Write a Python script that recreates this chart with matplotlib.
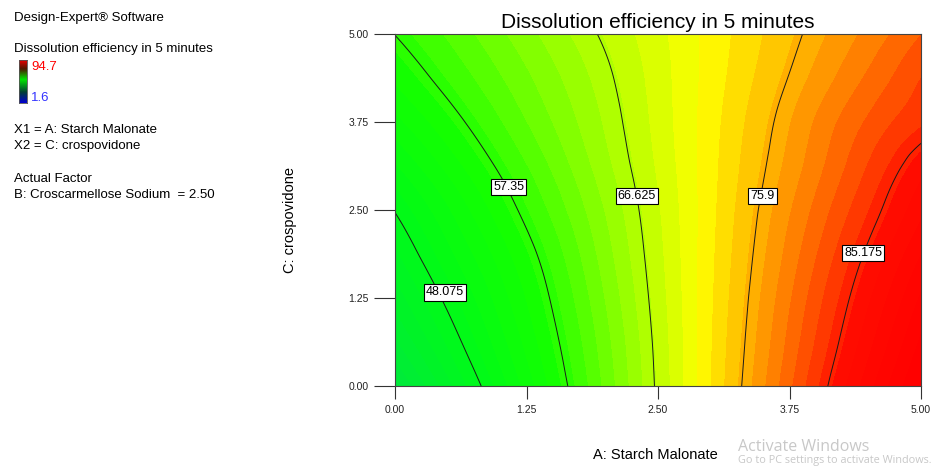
import numpy as np
import matplotlib.pyplot as plt
import matplotlib.tri as mtri
from matplotlib.colors import LinearSegmentedColormap

# factor grid (A: Starch Malonate across, C: crospovidone up)
A_vals = [0.0, 0.625, 1.25, 1.875, 2.5, 3.125, 3.75, 4.375, 5.0]
C_vals = [0.0, 0.625, 1.25, 1.875, 2.5, 3.125, 3.75, 4.375, 5.0]

# dissolution efficiency, one row per C value
DE = [
    [38.8, 45.9, 52.9, 60.0, 67.0, 74.0, 81.0, 88.1, 94.7],
    [41.9, 48.0, 54.2, 60.6, 67.2, 73.8, 80.3, 86.8, 93.2],
    [44.2, 49.7, 55.3, 61.3, 67.5, 73.6, 79.7, 85.7, 91.7],
    [46.2, 51.4, 56.5, 62.1, 67.8, 73.4, 79.0, 84.5, 90.0],
    [48.2, 53.1, 58.0, 63.0, 68.1, 73.2, 78.3, 83.2, 88.2],
    [50.7, 55.1, 59.5, 64.0, 68.5, 73.0, 77.5, 82.0, 86.5],
    [53.3, 57.1, 61.0, 64.8, 68.8, 72.8, 76.9, 80.9, 84.0],
    [55.5, 58.9, 62.2, 65.5, 69.0, 72.5, 76.0, 79.5, 82.8],
    [57.4, 60.4, 63.4, 66.4, 69.3, 72.3, 75.3, 78.3, 81.3],
]

contour_levels = [48.075, 57.35, 66.625, 75.9, 85.175]
# where each contour label sits (A, C)
label_pos = [(0.475, 1.33), (1.08, 2.83), (2.30, 2.70), (3.49, 2.70), (4.45, 1.89)]

resp_min, resp_max = 1.6, 94.7

plt.rcParams['font.family'] = ['Liberation Sans', 'DejaVu Sans']

# colour stops (response value, rgb)
stops = [(1.6, (0, 0, 255)), (38, (0, 232, 64)), (48, (0, 250, 25)), (56, (20, 255, 0)),
         (71.5, (255, 255, 0)), (86.5, (255, 12, 0)), (94.7, (255, 0, 0))]
de_cmap = LinearSegmentedColormap.from_list(
    'de', [((v - resp_min) / (resp_max - resp_min), tuple(c / 255 for c in rgb)) for v, rgb in stops])

fig = plt.figure(figsize=(9.48, 4.70), dpi=100)
ax = fig.add_axes([395/948, 1-386/470, 526/948, 352/470])

X, Y = np.meshgrid(A_vals, C_vals)
Z = np.array(DE)

# smooth the surface with matplotlib's own refiner so the lines come out round
tri = mtri.Triangulation(X.ravel(), Y.ravel())
refiner = mtri.UniformTriRefiner(tri)
interp = mtri.CubicTriInterpolator(tri, Z.ravel(), kind='min_E')
tri_f, z_f = refiner.refine_field(Z.ravel(), triinterpolator=interp, subdiv=4)

bands = np.arange(resp_min, resp_max + 1.5, 1.45)
ax.tricontourf(tri_f, z_f, levels=bands, cmap=de_cmap, vmin=resp_min, vmax=resp_max)
ax.tricontour(tri_f, z_f, levels=contour_levels, colors='#1a1a1a', linewidths=0.7)

for lev, (px, py) in zip(contour_levels, label_pos):
    ax.text(px, py, '{:g}'.format(lev), fontsize=9, ha='center', va='center',
            bbox=dict(facecolor='white', edgecolor='black', linewidth=0.8, pad=1.6))

ax.set_xlim(0, 5)
ax.set_ylim(0, 5)
ticks = [0, 1.25, 2.5, 3.75, 5]
ax.set_xticks(ticks, ['%.2f' % t for t in ticks])
ax.set_yticks(ticks, ['%.2f' % t for t in ticks])
ax.tick_params(axis='x', direction='out', length=9, width=0.8, labelsize=7.5, pad=5,
               colors='#333333', labelcolor='#222222')
ax.tick_params(axis='y', direction='out', length=15, width=0.8, labelsize=7.5, pad=4,
               colors='#333333', labelcolor='#222222')
for s in ax.spines.values():
    s.set_color('#444444')
    s.set_linewidth(0.8)

ax.set_title('Dissolution efficiency in 5 minutes', fontsize=15, pad=4)
fig.text(655/948, 1-455/470, 'A: Starch Malonate', fontsize=10.5, ha='center', va='center')
fig.text(290/948, 1-220/470, 'C: crospovidone', fontsize=10.5, ha='center', va='center', rotation=90)

# left info panel
fs = 9.5
fig.text(14/948, 1-18/470, 'Design-Expert® Software', fontsize=fs, va='center')
fig.text(14/948, 1-49/470, 'Dissolution efficiency in 5 minutes', fontsize=fs, va='center')
cax = fig.add_axes([19/948, 1-103/470, 8/948, 43/470])
bar_cmap = LinearSegmentedColormap.from_list(
    'bar', [(0.0, (0, 0, 0.8)), (0.25, (0, 0.25, 0.2)), (0.55, (0, 0.9, 0)),
            (0.8, (0.3, 0.1, 0)), (1.0, (0.9, 0, 0))])
cax.imshow(np.linspace(0, 1, 50).reshape(-1, 1), cmap=bar_cmap, aspect='auto', origin='lower')
cax.set_xticks([])
cax.set_yticks([])
for s in cax.spines.values():
    s.set_color('#555555')
    s.set_linewidth(0.6)
fig.text(31/948, 1-67/470, '%.1f' % resp_max, fontsize=fs, color='red', va='center')
fig.text(31/948, 1-98/470, '%.1f' % resp_min, fontsize=fs, color='#3333ff', va='center')
fig.text(14/948, 1-130/470, 'X1 = A: Starch Malonate', fontsize=fs, va='center')
fig.text(14/948, 1-146/470, 'X2 = C: crospovidone', fontsize=fs, va='center')
fig.text(14/948, 1-179/470, 'Actual Factor', fontsize=fs, va='center')
fig.text(14/948, 1-195/470, 'B: Croscarmellose Sodium  = 2.50', fontsize=fs, va='center')

# windows watermark seen in the screenshot
fig.text(738/948, 1-447/470, 'Activate Windows', fontsize=11.5, color='#c8c8c8',
         va='center', family=['Open Sans', 'DejaVu Sans'])
fig.text(738/948, 1-461/470, 'Go to PC settings to activate Windows.', fontsize=7.8, color='#c8c8c8',
         va='center', family=['Open Sans', 'DejaVu Sans'])

fig.savefig('out.png', dpi=100)
